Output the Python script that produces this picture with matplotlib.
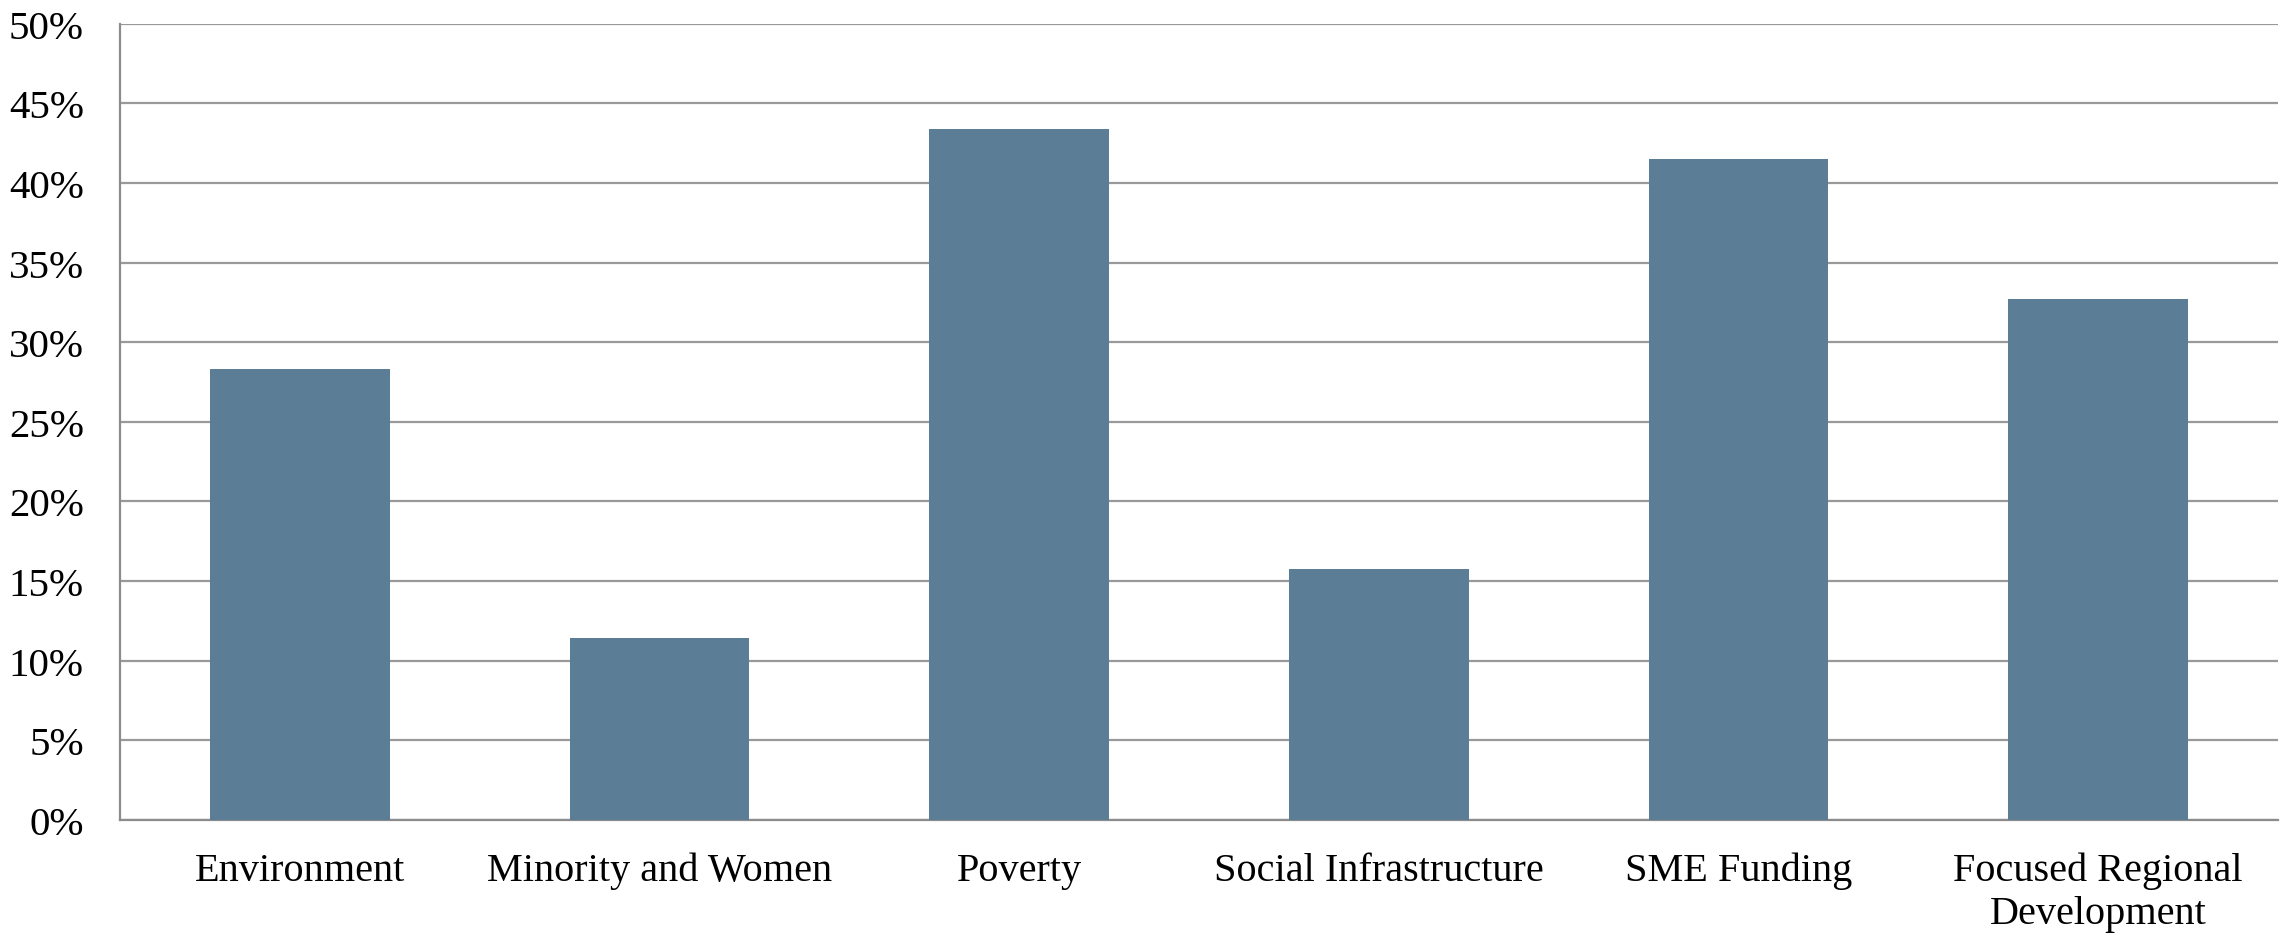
import matplotlib.pyplot as plt
from matplotlib.ticker import PercentFormatter

categories = ["Environment", "Minority and Women", "Poverty",
              "Social Infrastructure", "SME Funding",
              "Focused Regional\nDevelopment"]
shares = [28.3, 11.4, 43.4, 15.75, 41.5, 32.7]
yticks = list(range(0, 55, 5))

plt.rcParams["font.family"] = ["Liberation Serif", "DejaVu Serif"]

fig = plt.figure(figsize=(22.8, 9.37), dpi=100)
ax = fig.add_axes([0.0526, 0.1241, 0.9465, 0.8495])

ax.bar(categories, shares, width=0.5, color="#5B7E96", zorder=3)

ax.set_ylim(0, 50)
ax.set_xlim(-0.5, len(categories) - 0.5)
ax.set_yticks(yticks)
ax.yaxis.set_major_formatter(PercentFormatter(decimals=0))
ax.grid(axis="y", color="#999999", linewidth=1.6, zorder=0)

for side in ["top", "right"]:
    ax.spines[side].set_visible(False)
for side in ["left", "bottom"]:
    ax.spines[side].set_color("#8c8c8c")
    ax.spines[side].set_linewidth(1.6)

ax.tick_params(axis="y", length=0, labelsize=29.5, pad=26)
ax.tick_params(axis="x", length=0, labelsize=29, pad=23)

fig.savefig("out.png", dpi=100)
